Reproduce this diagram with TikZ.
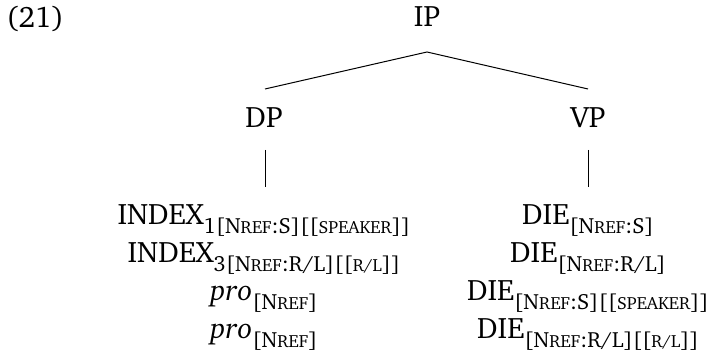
\documentclass[tikz,border=0pt]{standalone}
\usepackage[T1]{fontenc}
\usepackage{charter}
\newcommand\sbs[1]{\raisebox{-0.3em}{\fontsize{11}{13}\selectfont #1}}
\newcommand\fsc[1]{{\fontsize{8.8}{10}\selectfont #1}}
\begin{document}
\begin{tikzpicture}[x=0.5pt,y=-0.5pt,
  lbl/.style={inner sep=0pt, anchor=base, font=\fontsize{14.8}{17}\selectfont},
  branch/.style={line width=0.5pt}]
\useasboundingbox (0,0) rectangle (711,356);
\node[lbl, anchor=base west] (ex) at (6,28) {(21)};
\node[lbl] (ip) at (427,27) {IP};
\node[lbl] (dp) at (264,128) {DP};
\node[lbl] (vp) at (588,128) {VP};
\coordinate (ipfoot) at (427,52);
\coordinate (dptop) at (265,89);
\coordinate (vptop) at (588,89);
\coordinate (dpfoot) at (265,150);
\coordinate (dpleaf) at (265,187);
\coordinate (vpfoot) at (588,150);
\coordinate (vpleaf) at (588,187);
\draw[branch] (dptop) -- (ipfoot) -- (vptop);
\draw[branch] (dpfoot) -- (dpleaf);
\draw[branch] (vpfoot) -- (vpleaf);
\node[lbl] (l1) at (264,225) {INDEX\sbs{1[N\fsc{REF}:S][[\fsc{SPEAKER}]]}};
\node[lbl] (l2) at (264,263) {INDEX\sbs{3[N\fsc{REF}:R/L][[\fsc{R/L}]]}};
\node[lbl] (l3) at (264,301) {\textit{pro}\sbs{[N\fsc{REF}]}};
\node[lbl] (l4) at (264,339) {\textit{pro}\sbs{[N\fsc{REF}]}};
\node[lbl] (r1) at (588,225) {DIE\sbs{[N\fsc{REF}:S]}};
\node[lbl] (r2) at (588,263) {DIE\sbs{[N\fsc{REF}:R/L]}};
\node[lbl] (r3) at (588,301) {DIE\sbs{[N\fsc{REF}:S][[\fsc{SPEAKER}]]}};
\node[lbl] (r4) at (588,339) {DIE\sbs{[N\fsc{REF}:R/L][[\fsc{R/L}]]}};
\end{tikzpicture}
\end{document}
